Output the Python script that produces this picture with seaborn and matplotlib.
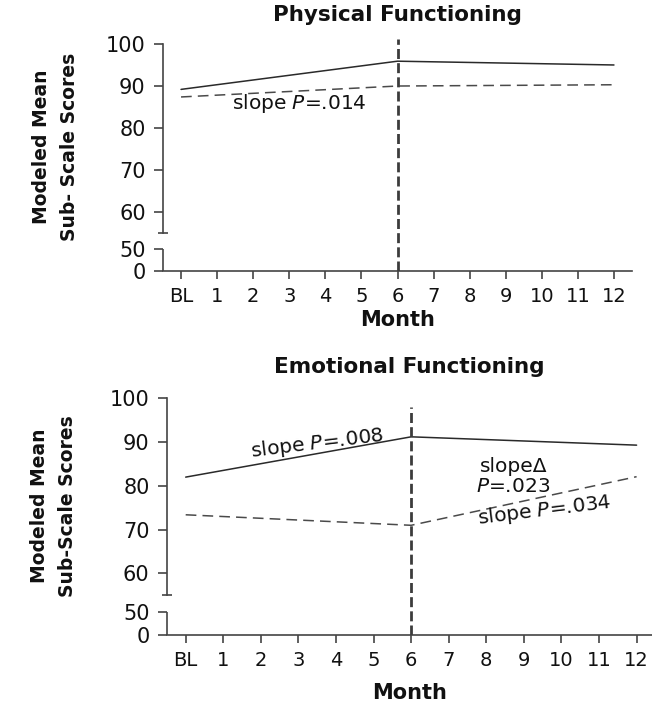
import numpy as np
import pandas as pd
import seaborn as sns
import matplotlib.pyplot as plt

# data (modelled means at BL, month 6, month 12)
months = ["BL"] + [str(m) for m in range(1, 13)]
model_months = [0, 6, 12]

phys_solid = [89.1, 95.8, 94.9]
phys_dashed = [87.3, 89.9, 90.2]
emo_solid = [82.0, 91.2, 89.3]
emo_dashed = [73.4, 71.0, 82.1]

y_ticks = [0, 50, 60, 70, 80, 90, 100]
break_ticks = [50, 55]
change_month = 6

sns.set_theme(style="ticks")
plt.rcParams["font.family"] = ["DejaVu Sans"]
plt.rcParams["mathtext.fontset"] = "dejavusans"

INK = "#111111"
AXC = "#444444"

# broken y axis: 0-50 squeezed, small gap, 55-100 linear
_src = [-100, 0, 50, 55, 200]
_dst = [-44, 0, 22, 38, 647]


def fwd(v):
    return np.interp(v, _src, _dst)


def inv(v):
    return np.interp(v, _dst, _src)


def draw_panel(ax, solid, dashed, title, ylabel, xmax, vtop, title_pad, ylab_xy, xlab_y):
    df = pd.DataFrame({
        "month": model_months * 2,
        "score": solid + dashed,
        "group": ["a"] * 3 + ["b"] * 3,
    })
    sns.lineplot(data=df, x="month", y="score", hue="group", style="group",
                 palette={"a": "#2a2a2a", "b": "#4a4a4a"},
                 dashes={"a": "", "b": (7, 4)}, linewidth=1.1,
                 legend=False, ax=ax)
    ax.vlines(change_month, 0, vtop, colors="#3c3c3c",
              linestyles=(0, (3.6, 1.5)), linewidth=2.0, zorder=3)

    ax.set_yscale("function", functions=(fwd, inv))
    ax.set_ylim(0, 101)
    ax.set_xlim(-0.5, xmax)
    ax.set_yticks(y_ticks)
    ax.set_yticks(break_ticks, minor=True)
    ax.set_xticks(range(len(months)))
    ax.set_xticklabels(months)

    sns.despine(ax=ax)
    for s in ["left", "bottom"]:
        ax.spines[s].set_color(AXC)
        ax.spines[s].set_linewidth(1.2)
    ax.spines["left"].set_bounds(break_ticks[1], y_ticks[-1])
    ax.plot([0, 0], [y_ticks[0], break_ticks[0]], transform=ax.get_yaxis_transform(),
            color=AXC, lw=1.2, clip_on=False, solid_capstyle="butt")

    ax.tick_params(axis="both", which="major", direction="out", color=AXC,
                   width=1.2, labelcolor=INK)
    ax.tick_params(axis="x", length=5.5, pad=6, labelsize=14)
    ax.tick_params(axis="y", length=6.5, pad=6, labelsize=15)
    ax.tick_params(axis="y", which="minor", direction="inout", length=7.5,
                   width=1.2, color=AXC)

    ax.set_title(title, fontsize=15.5, fontweight="bold", color=INK, pad=title_pad)
    ax.set_ylabel(ylabel, fontsize=13.5, fontweight="bold", color=INK, linespacing=1.6)
    ax.yaxis.set_label_coords(*ylab_xy)
    ax.set_xlabel("Month", fontsize=15, fontweight="bold", color=INK)
    ax.xaxis.set_label_coords(0.5, xlab_y)


fig = plt.figure(figsize=(6.52, 7.03), dpi=100)
ax1 = fig.add_axes([163 / 652, 1 - 271 / 703, 469 / 652, 231.7 / 703])
ax2 = fig.add_axes([166.9 / 652, 1 - 635 / 703, 485.1 / 652, 241.1 / 703])

draw_panel(ax1, phys_solid, phys_dashed, "Physical Functioning",
           "Modeled Mean\nSub- Scale Scores", 12.5, 101, 13, (-0.18, 0.535), -0.17)
draw_panel(ax2, emo_solid, emo_dashed, "Emotional Functioning",
           "Modeled Mean\nSub-Scale Scores", 12.41, 98, 15, (-0.185, 0.535), -0.2)

ax1.text(1.4, 85.7, "slope $P$=.014", ha="left", va="center", fontsize=14.5, color=INK)
ax2.text(3.5, 89.8, "slope $P$=.008", ha="center", va="center", rotation=7,
         rotation_mode="anchor", fontsize=14.5, color=INK)
ax2.text(8.72, 82.1, "slope\u0394\n$P$=.023", ha="center", va="center",
         multialignment="center", linespacing=1.1, fontsize=14.5, color=INK)
ax2.text(9.56, 74.4, "slope $P$=.034", ha="center", va="center", rotation=7,
         rotation_mode="anchor", fontsize=14.5, color=INK)

fig.savefig("out.png", dpi=100, facecolor="white")
